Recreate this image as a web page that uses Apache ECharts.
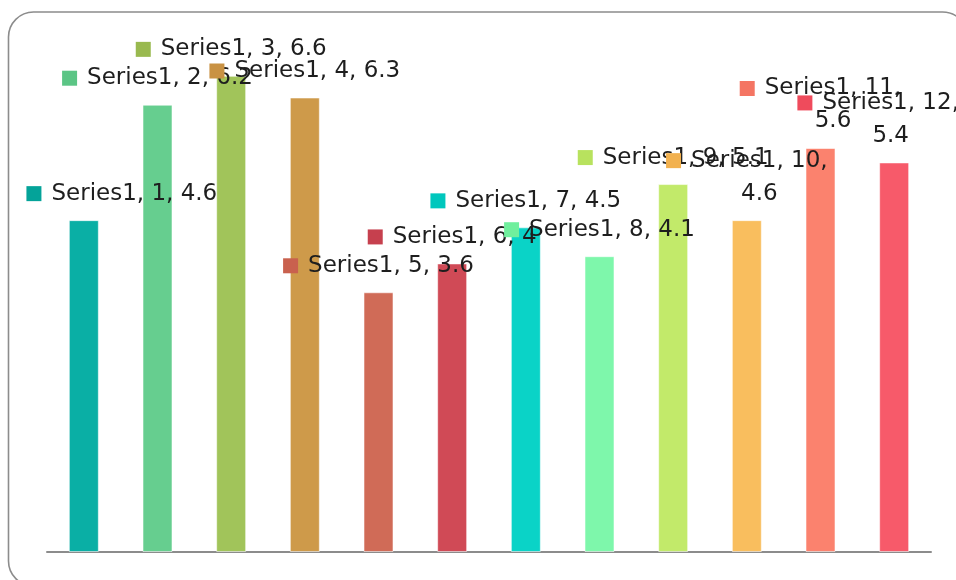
<!DOCTYPE html>
<html>
<head>
<meta charset="utf-8">
<script src="https://cdn.jsdelivr.net/npm/echarts@6/dist/echarts.min.js"></script>
<style>
  html, body { margin: 0; padding: 0; background: #ffffff; }
  #chart { width: 956px; height: 580px; }
</style>
</head>
<body>
<div id="chart"></div>
<script>
// ---- data ----
const seriesName = 'Series1';
const categories = ['1', '2', '3', '4', '5', '6', '7', '8', '9', '10', '11', '12'];
const values = [4.6, 6.2, 6.6, 6.3, 3.6, 4, 4.5, 4.1, 5.1, 4.6, 5.6, 5.4];

// ---- styling / layout ----
const barColors = ['#0aafa5', '#66ce8f', '#a1c45a', '#ce9a4a', '#d06b57', '#d04a56',
                   '#0ad3c7', '#7ef7ab', '#c2ea6a', '#f9be5e', '#fb826e', '#f75a6a'];
const markerColors = ['#04a399', '#5bc585', '#99b94f', '#c99243', '#c9614e', '#c6404e',
                      '#00c7bd', '#70ef9d', '#b8e25e', '#f2b14f', '#f47563', '#ef4b5c'];
const labelShiftX = [38, 0, 0, 0, 0, 0, 0, 0, 0, 0, 0, -16];
const labelWrap = [false, false, false, false, false, false, false, false, false, true, true, true];

const FONT = '"DejaVu Sans", sans-serif';
const rich = {
  t: { fontFamily: FONT, fontSize: 23, color: '#1e1e1e', lineHeight: 33, padding: [0, 0, 0, 10] },
  sp: { width: 15, height: 15 }
};
markerColors.forEach((c, i) => { rich['m' + i] = { width: 15, height: 15, backgroundColor: c }; });

const data = values.map((v, i) => ({
  value: v,
  itemStyle: { color: barColors[i], borderColor: 'rgba(255,255,255,0.55)', borderWidth: 1 },
  label: { offset: [labelShiftX[i], 0] }
}));

const chart = echarts.init(document.getElementById('chart'), null, { renderer: 'canvas' });
chart.setOption({
  animation: false,
  backgroundColor: '#ffffff',
  graphic: [{
    type: 'rect',
    shape: { x: 8.5, y: 12, width: 959, height: 574, r: 25 },
    style: { fill: 'none', stroke: '#8c8c8c', lineWidth: 1.6 },
    z: -1
  }],
  grid: { left: 47, right: 25, top: 47, bottom: 28 },
  xAxis: {
    type: 'category',
    data: categories,
    axisLine: { show: true, lineStyle: { color: '#8c8c8c', width: 2 } },
    axisTick: { show: false },
    axisLabel: { show: false },
    splitLine: { show: false }
  },
  yAxis: {
    type: 'value', min: 0, max: 7, show: false,
    splitLine: { show: false }
  },
  series: [{
    name: seriesName,
    type: 'bar',
    barWidth: 30,
    data: data,
    label: {
      show: true,
      position: 'top',
      distance: 10,
      rich: rich,
      formatter: (p) => {
        const i = p.dataIndex;
        if (labelWrap[i]) {
          return '{m' + i + '|}{t|' + p.seriesName + ', ' + p.name + ',}\n{sp|}{t|' + p.value + '}';
        }
        return '{m' + i + '|}{t|' + p.seriesName + ', ' + p.name + ', ' + p.value + '}';
      }
    }
  }]
});
</script>
</body>
</html>
